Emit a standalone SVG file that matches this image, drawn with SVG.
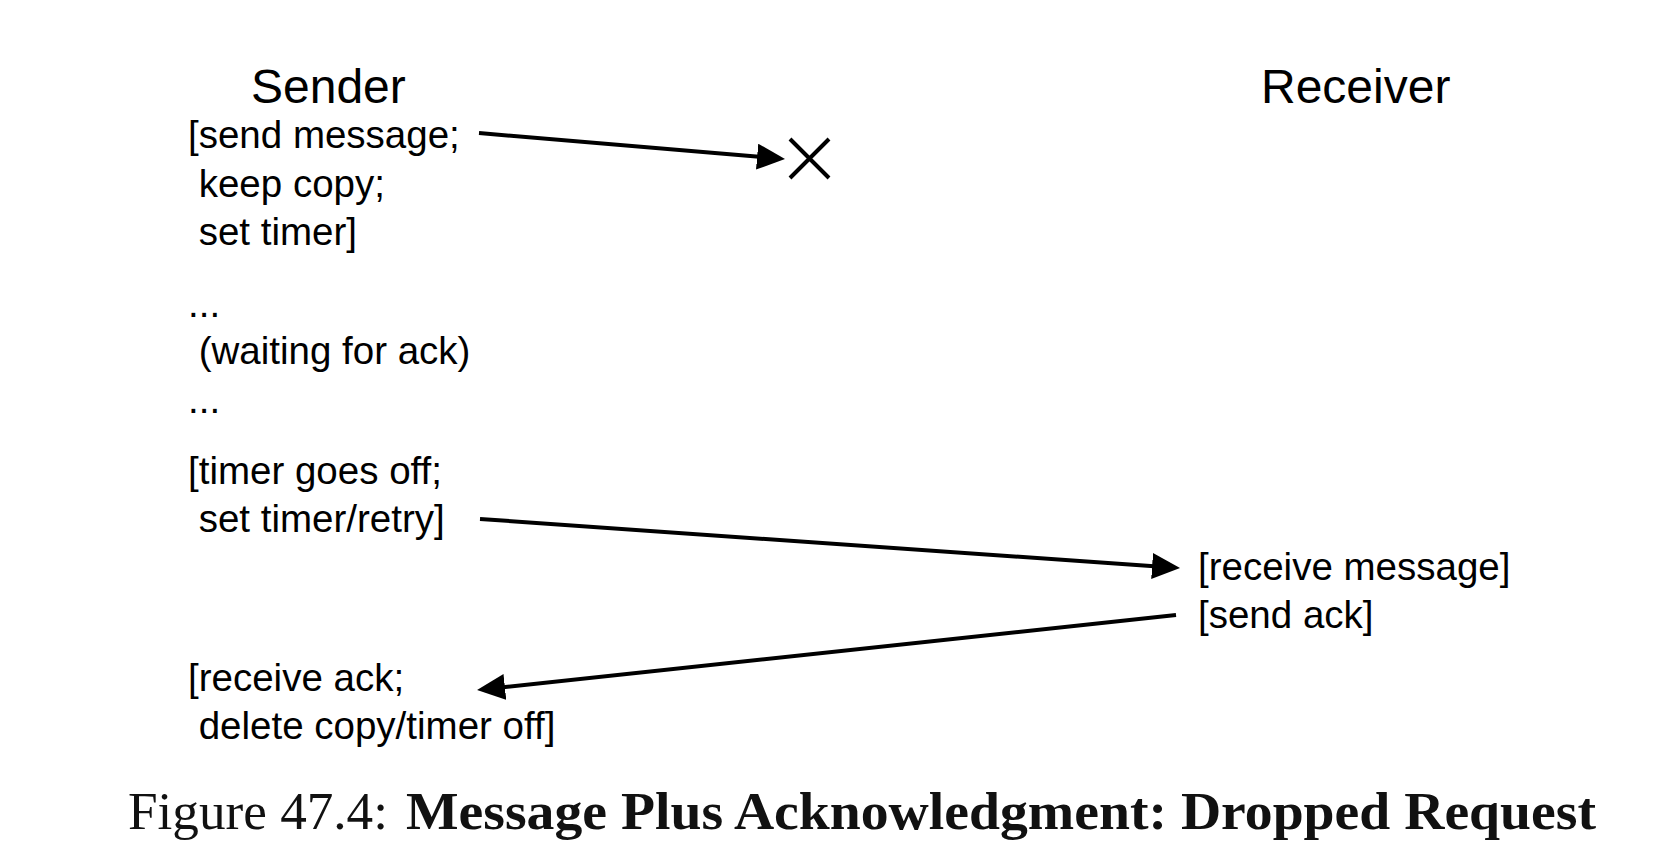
<svg xmlns="http://www.w3.org/2000/svg" width="1670" height="868" viewBox="0 0 1670 868">
<style>
.hd{font-family:"Liberation Sans",Arial,sans-serif;font-size:48px;fill:#000}
.tx{font-family:"Liberation Sans",Arial,sans-serif;font-size:38.5px;fill:#000;white-space:pre}
.cap{font-family:"Liberation Serif","Times New Roman",serif;font-size:53px;fill:#111}
.conn{stroke:#000;stroke-width:4;fill:none}
</style>
<defs>
<marker id="ah" markerUnits="userSpaceOnUse" markerWidth="28" markerHeight="26" refX="2" refY="13" orient="auto" viewBox="0 0 28 26">
<path d="M0,0 L28,13 L0,26 z" fill="#000"/>
</marker>
</defs>
<rect width="1670" height="868" fill="#fff"/>
<g id="sender">
<text class="hd" x="251" y="103">Sender</text>
<text class="tx" x="188" y="148" xml:space="preserve">[send message;</text>
<text class="tx" x="188" y="197" xml:space="preserve"> keep copy;</text>
<text class="tx" x="188" y="245" xml:space="preserve"> set timer]</text>
<text class="tx" x="188" y="317" xml:space="preserve">...</text>
<text class="tx" x="188" y="364" xml:space="preserve"> (waiting for ack)</text>
<text class="tx" x="188" y="413" xml:space="preserve">...</text>
<text class="tx" x="188" y="484" xml:space="preserve">[timer goes off;</text>
<text class="tx" x="188" y="532" xml:space="preserve"> set timer/retry]</text>
<text class="tx" x="188" y="691" xml:space="preserve">[receive ack;</text>
<text class="tx" x="188" y="739" xml:space="preserve"> delete copy/timer off]</text>
</g>
<g id="receiver">
<text class="hd" x="1261" y="103">Receiver</text>
<text class="tx" x="1198" y="580">[receive message]</text>
<text class="tx" x="1198" y="628">[send ack]</text>
</g>
<g id="drop">
<path class="conn" d="M790,139 L829,178 M829,139 L790,178"/>
</g>
<g id="connectors">
<line class="conn" x1="479" y1="133" x2="759.1" y2="156.8" marker-end="url(#ah)"/>
<line class="conn" x1="480" y1="519" x2="1154.1" y2="566.2" marker-end="url(#ah)"/>
<line class="conn" x1="1176" y1="615" x2="502.9" y2="687.2" marker-end="url(#ah)"/>
</g>
<g id="caption">
<text class="cap" x="128" y="829" textLength="260" lengthAdjust="spacingAndGlyphs">Figure 47.4:</text>
<text class="cap" x="406" y="829" font-weight="bold" textLength="1190" lengthAdjust="spacingAndGlyphs">Message Plus Acknowledgment: Dropped Request</text>
</g>
</svg>
